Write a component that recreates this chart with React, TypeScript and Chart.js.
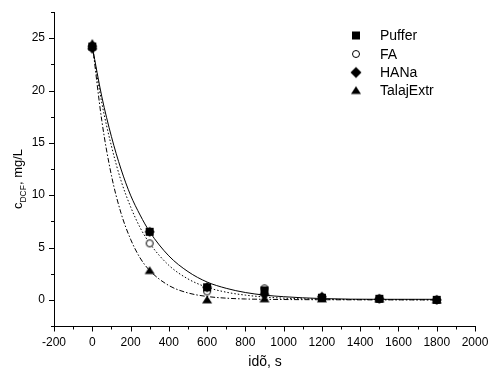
import React, { useEffect, useRef } from "react";
import { Chart, registerables } from "chart.js";
Chart.register(...registerables);

// measured points
const times = [0, 300, 600, 900, 1200, 1500, 1800];
const puffer = [24.2, 6.5, 1.2, 0.9, 0.2, 0.1, 0.0];
const fa = [24.2, 5.4, 0.8, 1.1, 0.2, 0.1, 0.0];
const hana = [24.0, 6.5, 1.2, 0.5, 0.3, 0.1, 0.0];
const talaj = [24.5, 2.8, 0.0, 0.1, 0.1, 0.1, 0.0];

// fitted curves
const fitX = [0, 50, 100, 150, 200, 250, 300, 400, 500, 600, 700, 800, 900, 1000, 1200, 1500, 1800];
const fitSolid = [24.2, 19.4, 15.6, 12.5, 10.0, 8.1, 6.5, 4.2, 2.7, 1.7, 1.1, 0.7, 0.45, 0.3, 0.12, 0.05, 0.05];
const fitDotted = [24.2, 18.8, 14.7, 11.4, 8.9, 6.9, 5.4, 3.3, 2.0, 1.2, 0.73, 0.45, 0.27, 0.16, 0.06, 0.02, 0.0];
const fitDashDot = [24.5, 17.1, 11.9, 8.3, 5.8, 4.0, 2.8, 1.37, 0.66, 0.32, 0.16, 0.08, 0.05, 0.03, 0.01, 0.0, 0.0];

const legendLabels = ["Puffer", "FA", "HANa", "TalajExtr"];
const xTickLabels = [-200, 0, 200, 400, 600, 800, 1000, 1200, 1400, 1600, 1800, 2000];
const yTickLabels = [0, 5, 10, 15, 20, 25];

const FONT = "Arial, 'Liberation Sans', sans-serif";

const pts = (xs: number[], ys: number[]) => xs.map((x, i) => ({ x, y: ys[i] }));

function markerCanvas(style: string, size: number): HTMLCanvasElement {
  const c = document.createElement("canvas");
  const S = 16;
  c.width = S;
  c.height = S;
  const ctx = c.getContext("2d")!;
  const x = S / 2;
  const y = S / 2;
  const h = size / 2;
  ctx.beginPath();
  let fill = true;
  if (style === "square") {
    ctx.rect(x - h, y - h, size, size);
  } else if (style === "circle") {
    ctx.arc(x, y, h - 0.5, 0, Math.PI * 2);
    fill = false;
  } else if (style === "diamond") {
    ctx.moveTo(x, y - h);
    ctx.lineTo(x + h, y);
    ctx.lineTo(x, y + h);
    ctx.lineTo(x - h, y);
    ctx.closePath();
  } else {
    ctx.moveTo(x, y - h * 0.85);
    ctx.lineTo(x + h, y + h * 0.7);
    ctx.lineTo(x - h, y + h * 0.7);
    ctx.closePath();
  }
  if (fill) {
    ctx.fillStyle = "#000";
    ctx.fill();
  } else {
    ctx.fillStyle = "#fff";
    ctx.fill();
    ctx.strokeStyle = "#000";
    ctx.lineWidth = 1;
    ctx.stroke();
  }
  return c;
}

export default function App() {
  const ref = useRef<HTMLCanvasElement>(null);
  useEffect(() => {
    if (!ref.current) return;
    const markerSets = [
      { label: legendLabels[0], data: pts(times, puffer), shape: "square", dSize: 8, lSize: 8, order: 3 },
      { label: legendLabels[1], data: pts(times, fa), shape: "circle", dSize: 8, lSize: 8, order: 4 },
      { label: legendLabels[2], data: pts(times, hana), shape: "diamond", dSize: 10, lSize: 11, order: 1 },
      { label: legendLabels[3], data: pts(times, talaj), shape: "triangle", dSize: 10, lSize: 10, order: 2 },
    ];
    const lineSets = [
      { data: pts(fitX, fitSolid), dash: [] as number[] },
      { data: pts(fitX, fitDotted), dash: [1.5, 2] },
      { data: pts(fitX, fitDashDot), dash: [5, 2, 1.5, 2] },
    ];
    const legendImgs = markerSets.map((m) => markerCanvas(m.shape, m.lSize));
    const datasets: any[] = [
      ...lineSets.map((l) => ({
        type: "line",
        data: l.data,
        borderColor: "#000",
        borderWidth: 1,
        borderDash: l.dash,
        pointRadius: 0,
        showLine: true,
        fill: false,
        cubicInterpolationMode: "monotone",
        order: 6,
      })),
      ...markerSets.map((m) => ({
        type: "scatter",
        label: m.label,
        data: m.data,
        showLine: false,
        pointStyle: markerCanvas(m.shape, m.dSize),
        pointRadius: 5,
        order: m.order,
      })),
    ];

    const decor = {
      id: "decor",
      afterDraw(chart: any) {
        const ctx = chart.ctx;
        const xs = chart.scales.x;
        const ys = chart.scales.y;
        ctx.save();
        ctx.strokeStyle = "#000";
        ctx.lineWidth = 1;
        ctx.beginPath();
        ctx.moveTo(Math.round(xs.left) + 0.5, ys.top);
        ctx.lineTo(Math.round(xs.left) + 0.5, Math.round(ys.bottom) + 0.5);
        ctx.lineTo(xs.right, Math.round(ys.bottom) + 0.5);
        ctx.stroke();
        ctx.beginPath();
        for (let v = -200; v <= 2000; v += 100) {
          const px = Math.round(xs.getPixelForValue(v)) + 0.5;
          const len = v % 200 === 0 ? 5 : 3;
          ctx.moveTo(px, Math.round(ys.bottom));
          ctx.lineTo(px, Math.round(ys.bottom) + len + 0.5);
        }
        for (let v = -2.5; v <= 27.5; v += 2.5) {
          const py = Math.round(ys.getPixelForValue(v)) + 0.5;
          const len = Math.abs(v % 5) < 1e-6 ? 5 : 3;
          ctx.moveTo(Math.round(xs.left) + 1, py);
          ctx.lineTo(Math.round(xs.left) - len, py);
        }
        ctx.stroke();
        ctx.fillStyle = "#000";
        ctx.font = `12px ${FONT}`;
        ctx.textAlign = "center";
        ctx.textBaseline = "middle";
        xTickLabels.forEach((v) => {
          ctx.fillText(String(v), xs.getPixelForValue(v), ys.bottom + 16.5);
        });
        ctx.textAlign = "right";
        yTickLabels.forEach((v) => {
          ctx.fillText(String(v), xs.left - 9, ys.getPixelForValue(v));
        });
        // x title
        ctx.textAlign = "center";
        ctx.textBaseline = "alphabetic";
        ctx.font = `14px ${FONT}`;
        ctx.fillText("idõ, s", 265, 366);
        // y title with subscript
        ctx.save();
        ctx.translate(22, 179);
        ctx.rotate(-Math.PI / 2);
        ctx.textAlign = "left";
        const p1 = "c";
        const p2 = "DCF";
        const p3 = ", mg/L";
        ctx.font = `13px ${FONT}`;
        const w1 = ctx.measureText(p1).width;
        const w3 = ctx.measureText(p3).width;
        ctx.font = `8.5px ${FONT}`;
        const w2 = ctx.measureText(p2).width;
        const total = w1 + w2 + w3;
        let x0 = -total / 2;
        ctx.font = `13px ${FONT}`;
        ctx.fillText(p1, x0, 0);
        x0 += w1;
        ctx.font = `8.5px ${FONT}`;
        ctx.fillText(p2, x0, 4);
        x0 += w2;
        ctx.font = `13px ${FONT}`;
        ctx.fillText(p3, x0, 0);
        ctx.restore();
        // legend
        const rows = [35.5, 54, 72.5, 90.5];
        markerSets.forEach((m, i) => {
          const cy = rows[i];
          const img = legendImgs[i];
          ctx.drawImage(img, 356 - img.width / 2, cy - img.height / 2);
          ctx.fillStyle = "#000";
          ctx.font = `14px ${FONT}`;
          ctx.textAlign = "left";
          ctx.textBaseline = "middle";
          ctx.fillText(m.label, 380, cy + 1);
        });
        ctx.restore();
      },
    };

    const chart = new Chart(ref.current, {
      type: "scatter",
      data: { datasets },
      options: {
        animation: false,
        responsive: false,
        layout: { padding: { left: 0, top: 12, right: 13, bottom: 0 } },
        plugins: { legend: { display: false }, tooltip: { enabled: false } },
        scales: {
          x: {
            type: "linear",
            min: -200,
            max: 2000,
            grid: { display: false, drawTicks: false },
            border: { display: false },
            ticks: { display: false },
            afterFit: (s: any) => { s.height = 46; },
          },
          y: {
            type: "linear",
            min: -2.5,
            max: 27.5,
            grid: { display: false, drawTicks: false },
            border: { display: false },
            ticks: { display: false },
            afterFit: (s: any) => { s.width = 54; },
          },
        },
      },
      plugins: [decor],
    } as any);
    return () => chart.destroy();
  }, []);
  return (
    <div style={{ position: "fixed", left: 0, top: 0, width: 488, height: 372, background: "#fff" }}>
      <canvas ref={ref} width={488} height={372} />
    </div>
  );
}
